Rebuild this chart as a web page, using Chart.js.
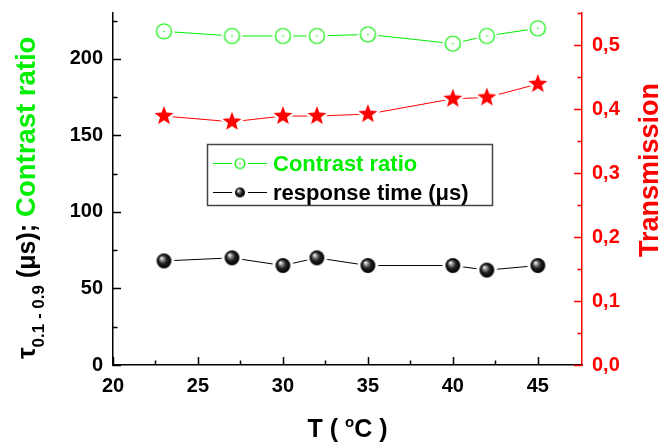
<!DOCTYPE html>
<html>
<head>
<meta charset="utf-8">
<style>
  html, body { margin: 0; padding: 0; background: #fff; }
  #wrap { width: 661px; height: 443px; }
</style>
</head>
<body>
<div id="wrap"><canvas id="chart" width="661" height="443"></canvas></div>
<script src="https://cdn.jsdelivr.net/npm/chart.js@4.4.1/dist/chart.umd.min.js"></script>
<script>
'use strict';

// ── Data ───────────────────────────────────────────────────────────────────
const temps        = [23, 27, 30, 32, 35, 40, 42, 45];
const contrast     = [218, 215, 215, 215, 216, 210, 215, 220];
const transmission = [0.389, 0.380, 0.389, 0.389, 0.392, 0.416, 0.418, 0.439];
const responseTime = [68, 70, 65, 70, 65, 65, 62, 65];

const xTicks     = [20, 25, 30, 35, 40, 45];
const leftTicks  = [0, 50, 100, 150, 200];
const rightTicks = [0, 0.1, 0.2, 0.3, 0.4, 0.5];

// ── Colours / fonts ────────────────────────────────────────────────────────
const GREEN = '#00ee00';
const RED   = '#ff0000';
const BLACK = '#000000';
const FAMILY = '"Liberation Sans", Arial, sans-serif';

// ── Marker images (white halo gives the Origin-style line gap) ─────────────
function makeCanvas(size) {
  const c = document.createElement('canvas');
  c.width = c.height = size;
  return c;
}

function circleMarker(r) {
  const s = Math.ceil(2 * (r + 4)), c = makeCanvas(s), g = c.getContext('2d'), m = s / 2;
  g.fillStyle = '#fff';
  g.beginPath(); g.arc(m, m, r + 3, 0, Math.PI * 2); g.fill();
  g.strokeStyle = GREEN; g.lineWidth = 1.2;
  g.beginPath(); g.arc(m, m, r, 0, Math.PI * 2); g.stroke();
  g.fillStyle = GREEN;
  g.beginPath(); g.arc(m, m, 0.8, 0, Math.PI * 2); g.fill();
  return c;
}

function starMarker(R) {
  const s = Math.ceil(2 * (R + 4)), c = makeCanvas(s), g = c.getContext('2d'), m = s / 2;
  const r = R * 0.42;
  g.beginPath();
  for (let i = 0; i < 10; i++) {
    const a = -Math.PI / 2 + i * Math.PI / 5;
    const rr = i % 2 ? r : R;
    g.lineTo(m + rr * Math.cos(a), m + rr * Math.sin(a));
  }
  g.closePath();
  g.strokeStyle = '#fff'; g.lineWidth = 5; g.lineJoin = 'round'; g.stroke();
  g.fillStyle = RED; g.fill();
  return c;
}

function sphereMarker(r) {
  const s = Math.ceil(2 * (r + 4)), c = makeCanvas(s), g = c.getContext('2d'), m = s / 2;
  g.fillStyle = '#fff';
  g.beginPath(); g.arc(m, m, r + 3, 0, Math.PI * 2); g.fill();
  const grad = g.createRadialGradient(m - r * 0.35, m - r * 0.4, 0.3, m, m, r);
  grad.addColorStop(0, '#ffffff');
  grad.addColorStop(0.2, '#a0a0a0');
  grad.addColorStop(0.55, '#222');
  grad.addColorStop(1, '#000');
  g.fillStyle = grad;
  g.beginPath(); g.arc(m, m, r, 0, Math.PI * 2); g.fill();
  return c;
}

const MARK = {
  circle: circleMarker(7.5), star: starMarker(10), sphere: sphereMarker(7.4),
  circleSm: circleMarker(5), sphereSm: sphereMarker(5),
};

// ── Helpers ────────────────────────────────────────────────────────────────
function pts(ys) { return temps.map((t, i) => ({ x: t, y: ys[i] })); }

function midpoints(list, max) {
  const out = [];
  for (let i = 0; i < list.length; i++) {
    const next = i + 1 < list.length ? list[i + 1] : list[i] + (list[1] - list[0]);
    const mid = (list[i] + next) / 2;
    if (mid <= max + 1e-9) out.push(mid);
  }
  return out;
}

function fixTicks(values) {
  return scale => { scale.ticks = values.map(v => ({ value: v })); };
}

// fixed box sizes, no extra label padding so the plot area lands where the reference has it
function fitBox(dim, size) {
  return s => {
    s[dim] = size;
    s.paddingTop = s.paddingBottom = s.paddingLeft = s.paddingRight = 0;
  };
}

// ── Inward tick marks ──────────────────────────────────────────────────────
const innerTicks = {
  id: 'innerTicks',
  afterDraw(chart) {
    const { ctx, chartArea: a, scales } = chart;
    ctx.save();
    ctx.lineWidth = 1.5;

    const vert = (scale, majors, x, dir, color) => {
      ctx.strokeStyle = color;
      const minors = midpoints(majors, scale.max);
      ctx.beginPath();
      majors.forEach(v => { const y = Math.round(scale.getPixelForValue(v)) + 0.5; ctx.moveTo(x, y); ctx.lineTo(x + dir * 8, y); });
      minors.forEach(v => { const y = Math.round(scale.getPixelForValue(v)) + 0.5; ctx.moveTo(x, y); ctx.lineTo(x + dir * 4.5, y); });
      ctx.stroke();
    };
    vert(scales.y,  leftTicks,  a.left,  1, BLACK);
    vert(scales.y1, rightTicks, a.right, -1, RED);

    const xs = scales.x;
    ctx.strokeStyle = BLACK;
    ctx.beginPath();
    xTicks.forEach(v => { const x = Math.round(xs.getPixelForValue(v)) + 0.5; ctx.moveTo(x, a.bottom); ctx.lineTo(x, a.bottom - 8); });
    midpoints(xTicks, 47.4).forEach(v => { const x = Math.round(xs.getPixelForValue(v)) + 0.5; ctx.moveTo(x, a.bottom); ctx.lineTo(x, a.bottom - 4.5); });
    ctx.stroke();
    ctx.restore();
  },
};

// ── Titles + legend ────────────────────────────────────────────────────────
function drawRun(ctx, parts) {
  let x = 0;
  parts.forEach(p => {
    ctx.font = `bold ${p.size}px ${FAMILY}`;
    ctx.fillStyle = p.color || BLACK;
    ctx.fillText(p.t, x, p.dy || 0);
    x += ctx.measureText(p.t).width;
  });
  return x;
}

function runWidth(ctx, parts) {
  return parts.reduce((w, p) => { ctx.font = `bold ${p.size}px ${FAMILY}`; return w + ctx.measureText(p.t).width; }, 0);
}

const decorations = {
  id: 'decorations',
  afterDraw(chart) {
    const { ctx, chartArea: a } = chart;
    ctx.save();
    ctx.textBaseline = 'alphabetic';
    ctx.textAlign = 'left';

    // left title (rotated)
    ctx.save();
    ctx.translate(35, 359);
    ctx.rotate(-Math.PI / 2);
    drawRun(ctx, [
      { t: 'τ', size: 26 },
      { t: '0.1 - 0.9', size: 17, dy: 9 },
      { t: ' (μs); ', size: 25 },
      { t: 'Contrast ratio', size: 27.5, color: GREEN },
    ]);
    ctx.restore();

    // right title
    ctx.save();
    ctx.translate(658, 170);
    ctx.rotate(-Math.PI / 2);
    ctx.textAlign = 'center';
    ctx.font = `bold 27px ${FAMILY}`;
    ctx.fillStyle = RED;
    ctx.fillText('Transmission', 0, 0);
    ctx.restore();

    // x title
    const xParts = [
      { t: 'T ( ', size: 25 },
      { t: 'o', size: 15, dy: -10 },
      { t: 'C )', size: 25 },
    ];
    ctx.save();
    ctx.translate((a.left + a.right) / 2 - runWidth(ctx, xParts) / 2, 437);
    drawRun(ctx, xParts);
    ctx.restore();

    // legend
    ctx.strokeStyle = '#444';
    ctx.lineWidth = 1.5;
    ctx.strokeRect(207.5, 144.5, 285, 61);
    const rows = [
      { y: 163, color: GREEN, img: MARK.circleSm, label: 'Contrast ratio' },
      { y: 192, color: BLACK, img: MARK.sphereSm, label: 'response time (μs)' },
    ];
    rows.forEach(r => {
      ctx.strokeStyle = r.color;
      ctx.lineWidth = 1;
      ctx.beginPath(); ctx.moveTo(213, r.y + 0.5); ctx.lineTo(267, r.y + 0.5); ctx.stroke();
      ctx.drawImage(r.img, 240 - r.img.width / 2, r.y + 0.5 - r.img.height / 2);
      ctx.font = `bold 22px ${FAMILY}`;
      ctx.fillStyle = r.color;
      ctx.fillText(r.label, 273, r.y + 8);
    });
    ctx.restore();
  },
};

// ── Chart ──────────────────────────────────────────────────────────────────
const tickFont = { family: FAMILY, size: 20, weight: 'bold' };

new Chart(document.getElementById('chart'), {
  type: 'line',
  data: {
    datasets: [
      { label: 'Contrast ratio', data: pts(contrast), yAxisID: 'y',
        borderColor: GREEN, borderWidth: 1, pointStyle: MARK.circle, pointRadius: 8 },
      { label: 'Transmission', data: pts(transmission), yAxisID: 'y1',
        borderColor: RED, borderWidth: 1, pointStyle: MARK.star, pointRadius: 10 },
      { label: 'response time (μs)', data: pts(responseTime), yAxisID: 'y',
        borderColor: BLACK, borderWidth: 1, pointStyle: MARK.sphere, pointRadius: 8 },
    ],
  },
  options: {
    responsive: false,
    animation: false,
    layout: { padding: { top: 13, left: 0, right: 0, bottom: 0 } },
    plugins: { legend: { display: false }, tooltip: { enabled: false } },
    scales: {
      x: {
        type: 'linear', position: 'bottom', min: 20, max: 47.6,
        afterBuildTicks: fixTicks(xTicks),
        afterFit: fitBox('height', 78),
        grid: { display: false },
        border: { color: BLACK, width: 1.5 },
        ticks: { font: tickFont, color: BLACK, padding: 1, maxRotation: 0 },
      },
      y: {
        type: 'linear', position: 'left', min: 0, max: 230,
        afterBuildTicks: fixTicks(leftTicks),
        afterFit: fitBox('width', 113),
        grid: { display: false },
        border: { color: BLACK, width: 1.5 },
        ticks: { font: tickFont, color: BLACK, padding: 2 },
      },
      y1: {
        type: 'linear', position: 'right', min: 0, max: 0.55,
        afterBuildTicks: fixTicks(rightTicks),
        afterFit: fitBox('width', 79),
        grid: { display: false },
        border: { color: RED, width: 1.5 },
        ticks: { font: tickFont, color: RED, padding: 2,
                 callback: v => v.toFixed(1).replace('.', ',') },
      },
    },
  },
  plugins: [innerTicks, decorations],
});
</script>
</body>
</html>
